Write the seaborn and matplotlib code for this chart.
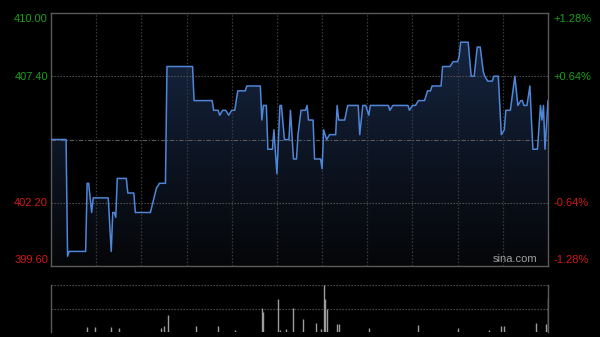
import numpy as np
import matplotlib
matplotlib.use("Agg")
import matplotlib.pyplot as plt
import seaborn as sns
from matplotlib.colors import LinearSegmentedColormap
from matplotlib.patches import Polygon

# ---- data (minutes since open, price) ----
minutes = [0, 10, 11, 12, 23, 24, 25, 27, 28, 38, 40, 41, 42, 43, 44, 50, 51, 55, 56, 66,
           70, 72, 76, 77, 94, 95, 107, 108, 111, 112, 114, 116, 118, 120, 122, 124, 129,
           130, 139, 140, 141, 143, 144, 147, 148, 150, 152, 153, 155, 158, 159, 161, 163,
           164, 166, 169, 170, 171, 174, 175, 179, 180, 181, 183, 185, 189, 190, 191, 195,
           197, 204, 205, 207, 209, 211, 212, 224, 225, 227, 237, 238, 240, 242, 244, 248,
           249, 250, 252, 253, 259, 260, 265, 267, 270, 271, 272, 277, 279, 281, 283, 285,
           287, 288, 290, 293, 294, 297, 299, 301, 302, 305, 308, 310, 312, 313, 314, 316,
           318, 319, 320, 323, 325, 326, 327, 328, 330]
prices = [404.8, 404.8, 400.0, 400.2, 400.2, 403.0, 403.0, 401.8, 402.4, 402.4, 400.2, 401.8,
          401.8, 401.6, 403.2, 403.2, 402.6, 402.6, 401.8, 401.8,
          402.8, 403.0, 403.0, 407.8, 407.8, 406.4, 406.4, 406.0, 406.0, 405.8, 406.0, 406.0,
          405.8, 406.0, 406.0, 406.8, 406.8,
          407.0, 407.0, 405.6, 406.2, 406.2, 404.4, 404.4, 405.2, 403.4, 406.2, 406.2, 404.8,
          404.8, 406.0, 404.0, 404.0,
          405.0, 406.0, 406.0, 406.2, 405.6, 405.6, 404.0, 404.0, 403.6, 405.2, 404.8, 405.0,
          405.0, 406.2, 405.6, 405.6,
          406.2, 406.2, 405.0, 406.2, 406.2, 405.8, 406.2, 406.2, 406.0, 406.2, 406.2, 406.0,
          406.2, 406.2, 406.4, 406.4,
          406.6, 406.8, 406.8, 407.0, 407.0, 407.8, 407.8, 408.0, 408.0, 408.2, 408.8, 408.8,
          407.4, 407.4, 408.6, 408.6,
          407.6, 407.4, 407.2, 407.2, 407.4, 407.4, 405.0, 405.2, 406.0, 406.0, 407.4, 406.2,
          406.4, 406.4, 406.2, 406.2,
          407.0, 405.6, 404.4, 404.4, 406.2, 405.6, 406.2, 404.4, 406.4]

vol_minutes = [24, 29, 40, 45, 73, 75, 78, 96, 111, 122, 140, 141, 151, 152, 156, 161, 167,
               176, 179, 181, 182, 183, 190, 191, 211, 244, 270, 291, 299, 301, 322, 329, 330]
vol_values = [10.7, 10.7, 10.7, 8, 8, 12, 36, 12.8, 12.8, 4, 52, 42, 70, 5, 6, 52, 27,
              19, 6, 100, 71, 48, 18, 18, 8.5, 14, 8.5, 4, 13, 13, 19, 16, 72]

prev_close = 404.8
y_min, y_max = 399.6, 410.0
left_labels = ["410.00", "407.40", "402.20", "399.60"]
right_labels = ["+1.28%", "+0.64%", "-0.64%", "-1.28%"]
label_colors = ["#18a018", "#18a018", "#d01818", "#d01818"]
label_ypix = [19, 76.7, 202.7, 260]

sns.set_style("dark", {"axes.facecolor": "black", "figure.facecolor": "black"})
plt.rcParams["font.family"] = ["Liberation Sans", "DejaVu Sans"]

W, H = 600, 337
fig = plt.figure(figsize=(W / 100, H / 100), dpi=100, facecolor="black")
ax = fig.add_axes([51 / W, 71 / H, 497 / W, 253 / H])
axv = fig.add_axes([51 / W, 5 / H, 497 / W, 47 / H])

for a in (ax, axv):
    a.set_facecolor("black")
    a.set_xlim(0, 330)
    a.set_xticks([])
    a.set_yticks([])
    a.grid(False)

ax.set_ylim(y_min, y_max)
axv.set_ylim(0, 100)

# gradient fill under the line
cmap = LinearSegmentedColormap.from_list("g", ["#050608", "#172846"])
grad = np.linspace(0, 1, 256).reshape(-1, 1)
im = ax.imshow(grad, extent=[0, 330, y_min, y_max], origin="lower", aspect="auto",
               cmap=cmap, zorder=1)
verts = [(minutes[0], y_min)] + list(zip(minutes, prices)) + [(minutes[-1], y_min)]
patch = Polygon(verts, closed=True, facecolor="none", edgecolor="none")
ax.add_patch(patch)
im.set_clip_path(patch)

# grid
for m in range(30, 330, 30):
    ax.axvline(m, color="#3c3c3c", lw=0.9, ls=(0, (1.2, 1.5)), zorder=2)
for p in (407.4, 402.2):
    ax.axhline(p, color="#5a5a5a", lw=0.8, ls=(0, (1.2, 1.5)), zorder=2)
ax.axhline(prev_close, color="#5a5a5a", lw=0.8, ls=(0, (4, 1.5, 1.2, 1.5)), zorder=2)

sns.lineplot(x=minutes, y=prices, ax=ax, color="#4f86d8", lw=1.1, zorder=3)

for s in ax.spines.values():
    s.set_color("#5a5a5a")
    s.set_linewidth(1)
    s.set_visible(True)

ax.text(0.978, 0.008, "sina.com", transform=ax.transAxes, ha="right", va="bottom",
        color="#a0a0a0", fontsize=8)

# volume
axv.vlines(vol_minutes, 0, vol_values, color="#9c9c9c", lw=1, zorder=3)
for v in (0, 50, 100):
    axv.axhline(v, color="#5a5a5a", lw=0.8, ls=(0, (1.2, 1.5)), zorder=2)
for k in ("top", "bottom"):
    axv.spines[k].set_visible(False)
for k in ("left", "right"):
    axv.spines[k].set_color("#5a5a5a")
    axv.spines[k].set_linewidth(1)
    axv.spines[k].set_visible(True)

# axis labels
for lab, rlab, col, yp in zip(left_labels, right_labels, label_colors, label_ypix):
    fy = (H - yp) / H
    fig.text(48 / W, fy, lab, ha="right", va="center", color=col, fontsize=8)
    fig.text(553 / W, fy, rlab, ha="left", va="center", color=col, fontsize=8)

fig.savefig("out.png", dpi=100, facecolor="black")
